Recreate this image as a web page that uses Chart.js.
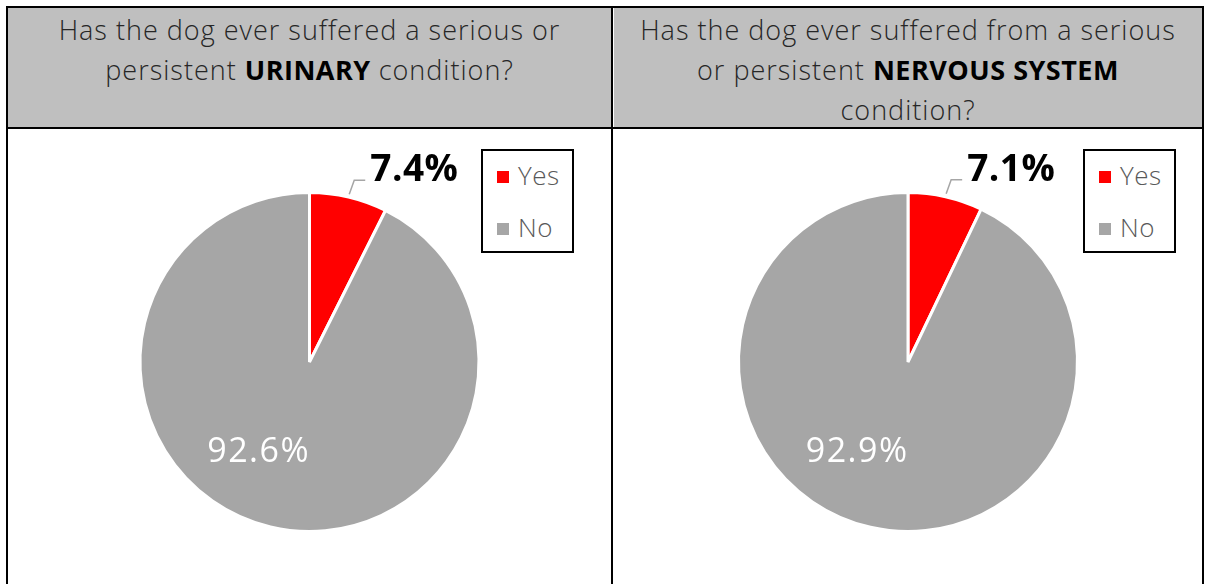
<!DOCTYPE html>
<html>
<head>
<meta charset="utf-8">
<script src="https://cdn.jsdelivr.net/npm/chart.js@4/dist/chart.umd.min.js"></script>
<style>
  html, body { margin: 0; padding: 0; background: #fff; }
  body { width: 1205px; height: 584px; position: relative; overflow: hidden; font-family: "Open Sans", sans-serif; }
  .line { position: absolute; background: #000; }
  .head {
    position: absolute; top: 8px; height: 119px; background: #bfbfbf;
    color: #262626; font-size: 27px; font-weight: 300; line-height: 40px; letter-spacing: 1px;
    text-align: center; box-sizing: border-box; padding-top: 2px;
  }
  .head b { font-weight: 700; color: #000; letter-spacing: 0.5px; }
  .panel { position: absolute; top: 130px; height: 454px; }
  .panel canvas { position: absolute; left: 0; top: 0; }
  .legend {
    position: absolute; top: 149px; width: 93px; height: 104px; box-sizing: border-box;
    border: 2px solid #000; background: #fff; font-size: 26px; font-weight: 300;
    letter-spacing: 0.5px; color: #595959;
  }
  .legend div { position: absolute; left: 14px; height: 30px; line-height: 30px; }
  .legend span { display: inline-block; width: 12px; height: 12px; margin-right: 9px; vertical-align: 2px; }
</style>
</head>
<body>

<div class="head" style="left:8px;width:603px;">Has the dog ever suffered a serious or<br>persistent <b>URINARY</b> condition?</div>
<div class="head" style="left:614px;width:588px;">Has the dog ever suffered from a serious<br>or persistent <b>NERVOUS SYSTEM</b><br>condition?</div>

<div class="panel" style="left:8px;width:603px;"><canvas id="urinary"></canvas></div>
<div class="panel" style="left:614px;width:588px;"><canvas id="nervous"></canvas></div>

<div class="legend" id="legend1" style="left:481px;"></div>
<div class="legend" id="legend2" style="left:1083px;"></div>

<!-- table grid -->
<div class="line" style="left:6px;top:6px;width:1198px;height:2px;"></div>
<div class="line" style="left:6px;top:127px;width:1198px;height:2px;"></div>
<div class="line" style="left:6px;top:6px;width:2px;height:578px;"></div>
<div class="line" style="left:611px;top:6px;width:2px;height:578px;"></div>
<div class="line" style="left:1202px;top:6px;width:2px;height:578px;"></div>

<script>
const answers = ['Yes', 'No'];
const colours = ['#ff0000', '#a6a6a6'];
const urinaryPct = [7.4, 92.6];
const nervousPct = [7.1, 92.9];

// percentage labels: small slice gets an outside label with a leader line,
// the big slice gets a white label inside
const pctLabels = {
  id: 'pctLabels',
  afterDatasetsDraw(chart) {
    const ctx = chart.ctx;
    const arcs = chart.getDatasetMeta(0).data;
    const values = chart.data.datasets[0].data;
    ctx.save();
    arcs.forEach((arc, i) => {
      const { x, y, startAngle, endAngle, outerRadius } = arc.getProps(['x', 'y', 'startAngle', 'endAngle', 'outerRadius'], true);
      const text = values[i].toFixed(1) + '%';
      const mid = (startAngle + endAngle) / 2;
      if (i === 0) {
        const sx = x + Math.cos(mid) * (outerRadius + 3);
        const sy = y + Math.sin(mid) * (outerRadius + 3);
        const ex = sx + 5, ey = sy - 14;
        ctx.strokeStyle = '#a6a6a6';
        ctx.lineWidth = 1.5;
        ctx.beginPath();
        ctx.moveTo(sx, sy);
        ctx.lineTo(ex, ey);
        ctx.lineTo(ex + 11, ey);
        ctx.stroke();
        ctx.fillStyle = '#000';
        ctx.font = 'bold 37px "Open Sans", sans-serif';
        ctx.letterSpacing = '0.5px';
        ctx.textAlign = 'left';
        ctx.textBaseline = 'alphabetic';
        ctx.fillText(text, ex + 16, ey + 1);
      } else {
        const a = -Math.PI / 2 + Math.PI * 7 / 6;
        ctx.fillStyle = '#fff';
        ctx.font = '34px "Open Sans", sans-serif';
        ctx.letterSpacing = '1.5px';
        ctx.textAlign = 'center';
        ctx.textBaseline = 'middle';
        ctx.fillText(text, x + Math.cos(a) * outerRadius * 0.6, y + Math.sin(a) * outerRadius * 0.6 + 2);
      }
    });
    ctx.restore();
  }
};

function buildLegend(id) {
  const box = document.getElementById(id);
  answers.forEach((name, i) => {
    const item = document.createElement('div');
    item.style.top = (9 + i * 52) + 'px';
    item.innerHTML = '<span style="background:' + colours[i] + '"></span>' + name;
    box.appendChild(item);
  });
}

function makePie(id, values) {
  return new Chart(document.getElementById(id), {
    type: 'pie',
    data: {
      labels: answers,
      datasets: [{
        data: values,
        backgroundColor: colours,
        borderColor: '#fff',
        borderWidth: 3
      }]
    },
    options: {
      responsive: true,
      maintainAspectRatio: false,
      animation: false,
      layout: { padding: { top: 61, bottom: 51 } },
      plugins: { legend: { display: false }, tooltip: { enabled: false } }
    },
    plugins: [pctLabels]
  });
}

makePie('urinary', urinaryPct);
makePie('nervous', nervousPct);
buildLegend('legend1');
buildLegend('legend2');
</script>
</body>
</html>
